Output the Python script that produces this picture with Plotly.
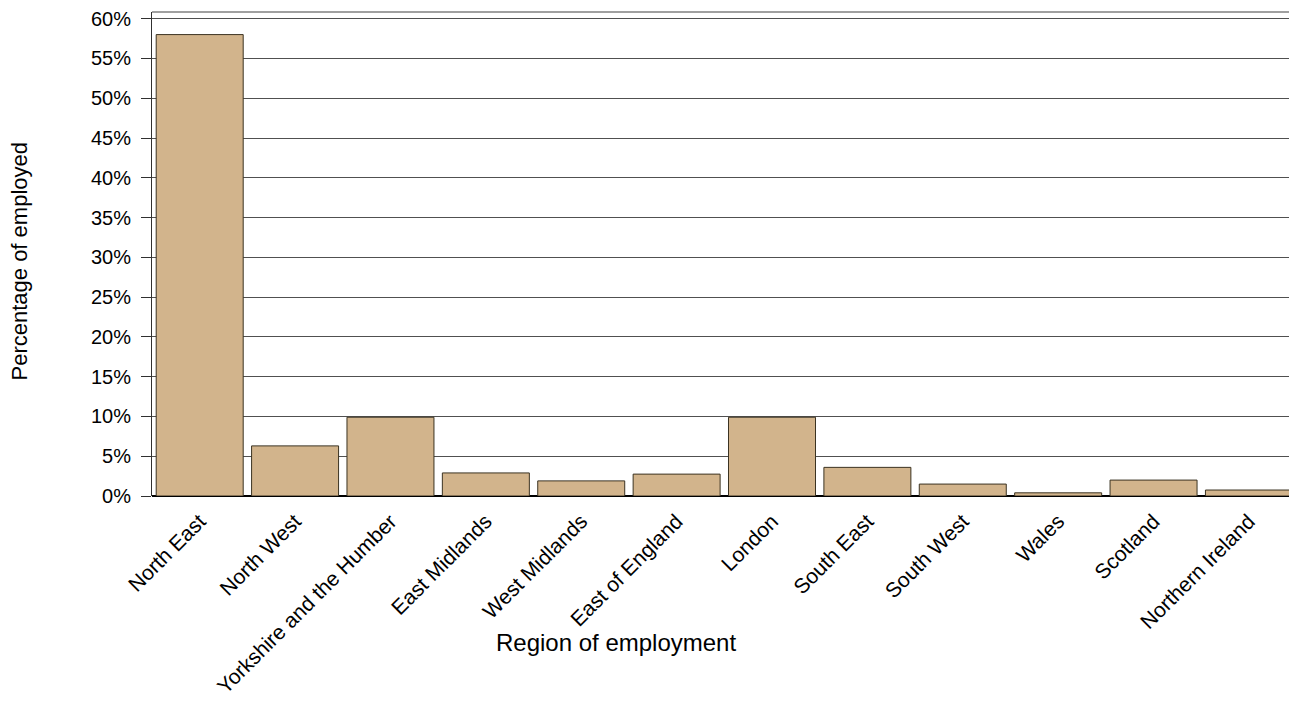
import plotly.graph_objects as go

regions = ["North East", "North West", "Yorkshire and the Humber", "East Midlands",
           "West Midlands", "East of England", "London", "South East", "South West",
           "Wales", "Scotland", "Northern Ireland"]
pct = [58.0, 6.3, 9.9, 2.9, 1.9, 2.75, 9.9, 3.6, 1.5, 0.4, 2.0, 0.75]
ytick_vals = [0, 5, 10, 15, 20, 25, 30, 35, 40, 45, 50, 55, 60]
ytick_text = [f"{v}%" for v in ytick_vals]

font = "Liberation Sans, Arial, sans-serif"

fig = go.Figure(go.Bar(
    x=regions, y=pct,
    marker=dict(color="#D2B48C", line=dict(color="#3b3322", width=1)),
))

fig.update_layout(
    width=1289, height=705,
    margin=dict(l=152, r=0, t=12, b=209, autoexpand=False),
    paper_bgcolor="white", plot_bgcolor="white",
    font=dict(family=font, size=20, color="black"),
    showlegend=False,
    bargap=0.088,
    xaxis=dict(
        tickangle=-45, showgrid=False, ticks="", showline=False,
        tickfont=dict(size=21), range=[-0.5, 11.42], automargin=False,
        ticklabelstandoff=8,
    ),
    yaxis=dict(
        range=[0, 60.84], tickvals=ytick_vals, ticktext=ytick_text,
        showgrid=True, gridcolor="#505050", gridwidth=1,
        ticks="outside", ticklen=10, tickcolor="#303030",
        showline=True, linecolor="#303030", linewidth=1,
        zeroline=True, zerolinecolor="black", zerolinewidth=1.5,
        tickfont=dict(size=20), automargin=False, ticklabelstandoff=6,
    ),
    shapes=[
        dict(type="line", xref="paper", yref="paper", x0=0, x1=1, y0=1, y1=1,
             line=dict(color="#808080", width=1.5)),
    ],
    annotations=[
        dict(text="Region of employment", xref="paper", yref="paper",
             x=0.4085, y=0, yshift=-146, xanchor="center", yanchor="middle",
             showarrow=False, font=dict(size=24)),
        dict(text="Percentage of employed", xref="paper", yref="paper",
             x=0, y=0.4845, xshift=-132, xanchor="center", yanchor="middle",
             textangle=-90, showarrow=False, font=dict(size=22)),
    ],
)

fig.write_html("out.html", config={"displayModeBar": False},
               post_script="document.body.style.margin='0';")
